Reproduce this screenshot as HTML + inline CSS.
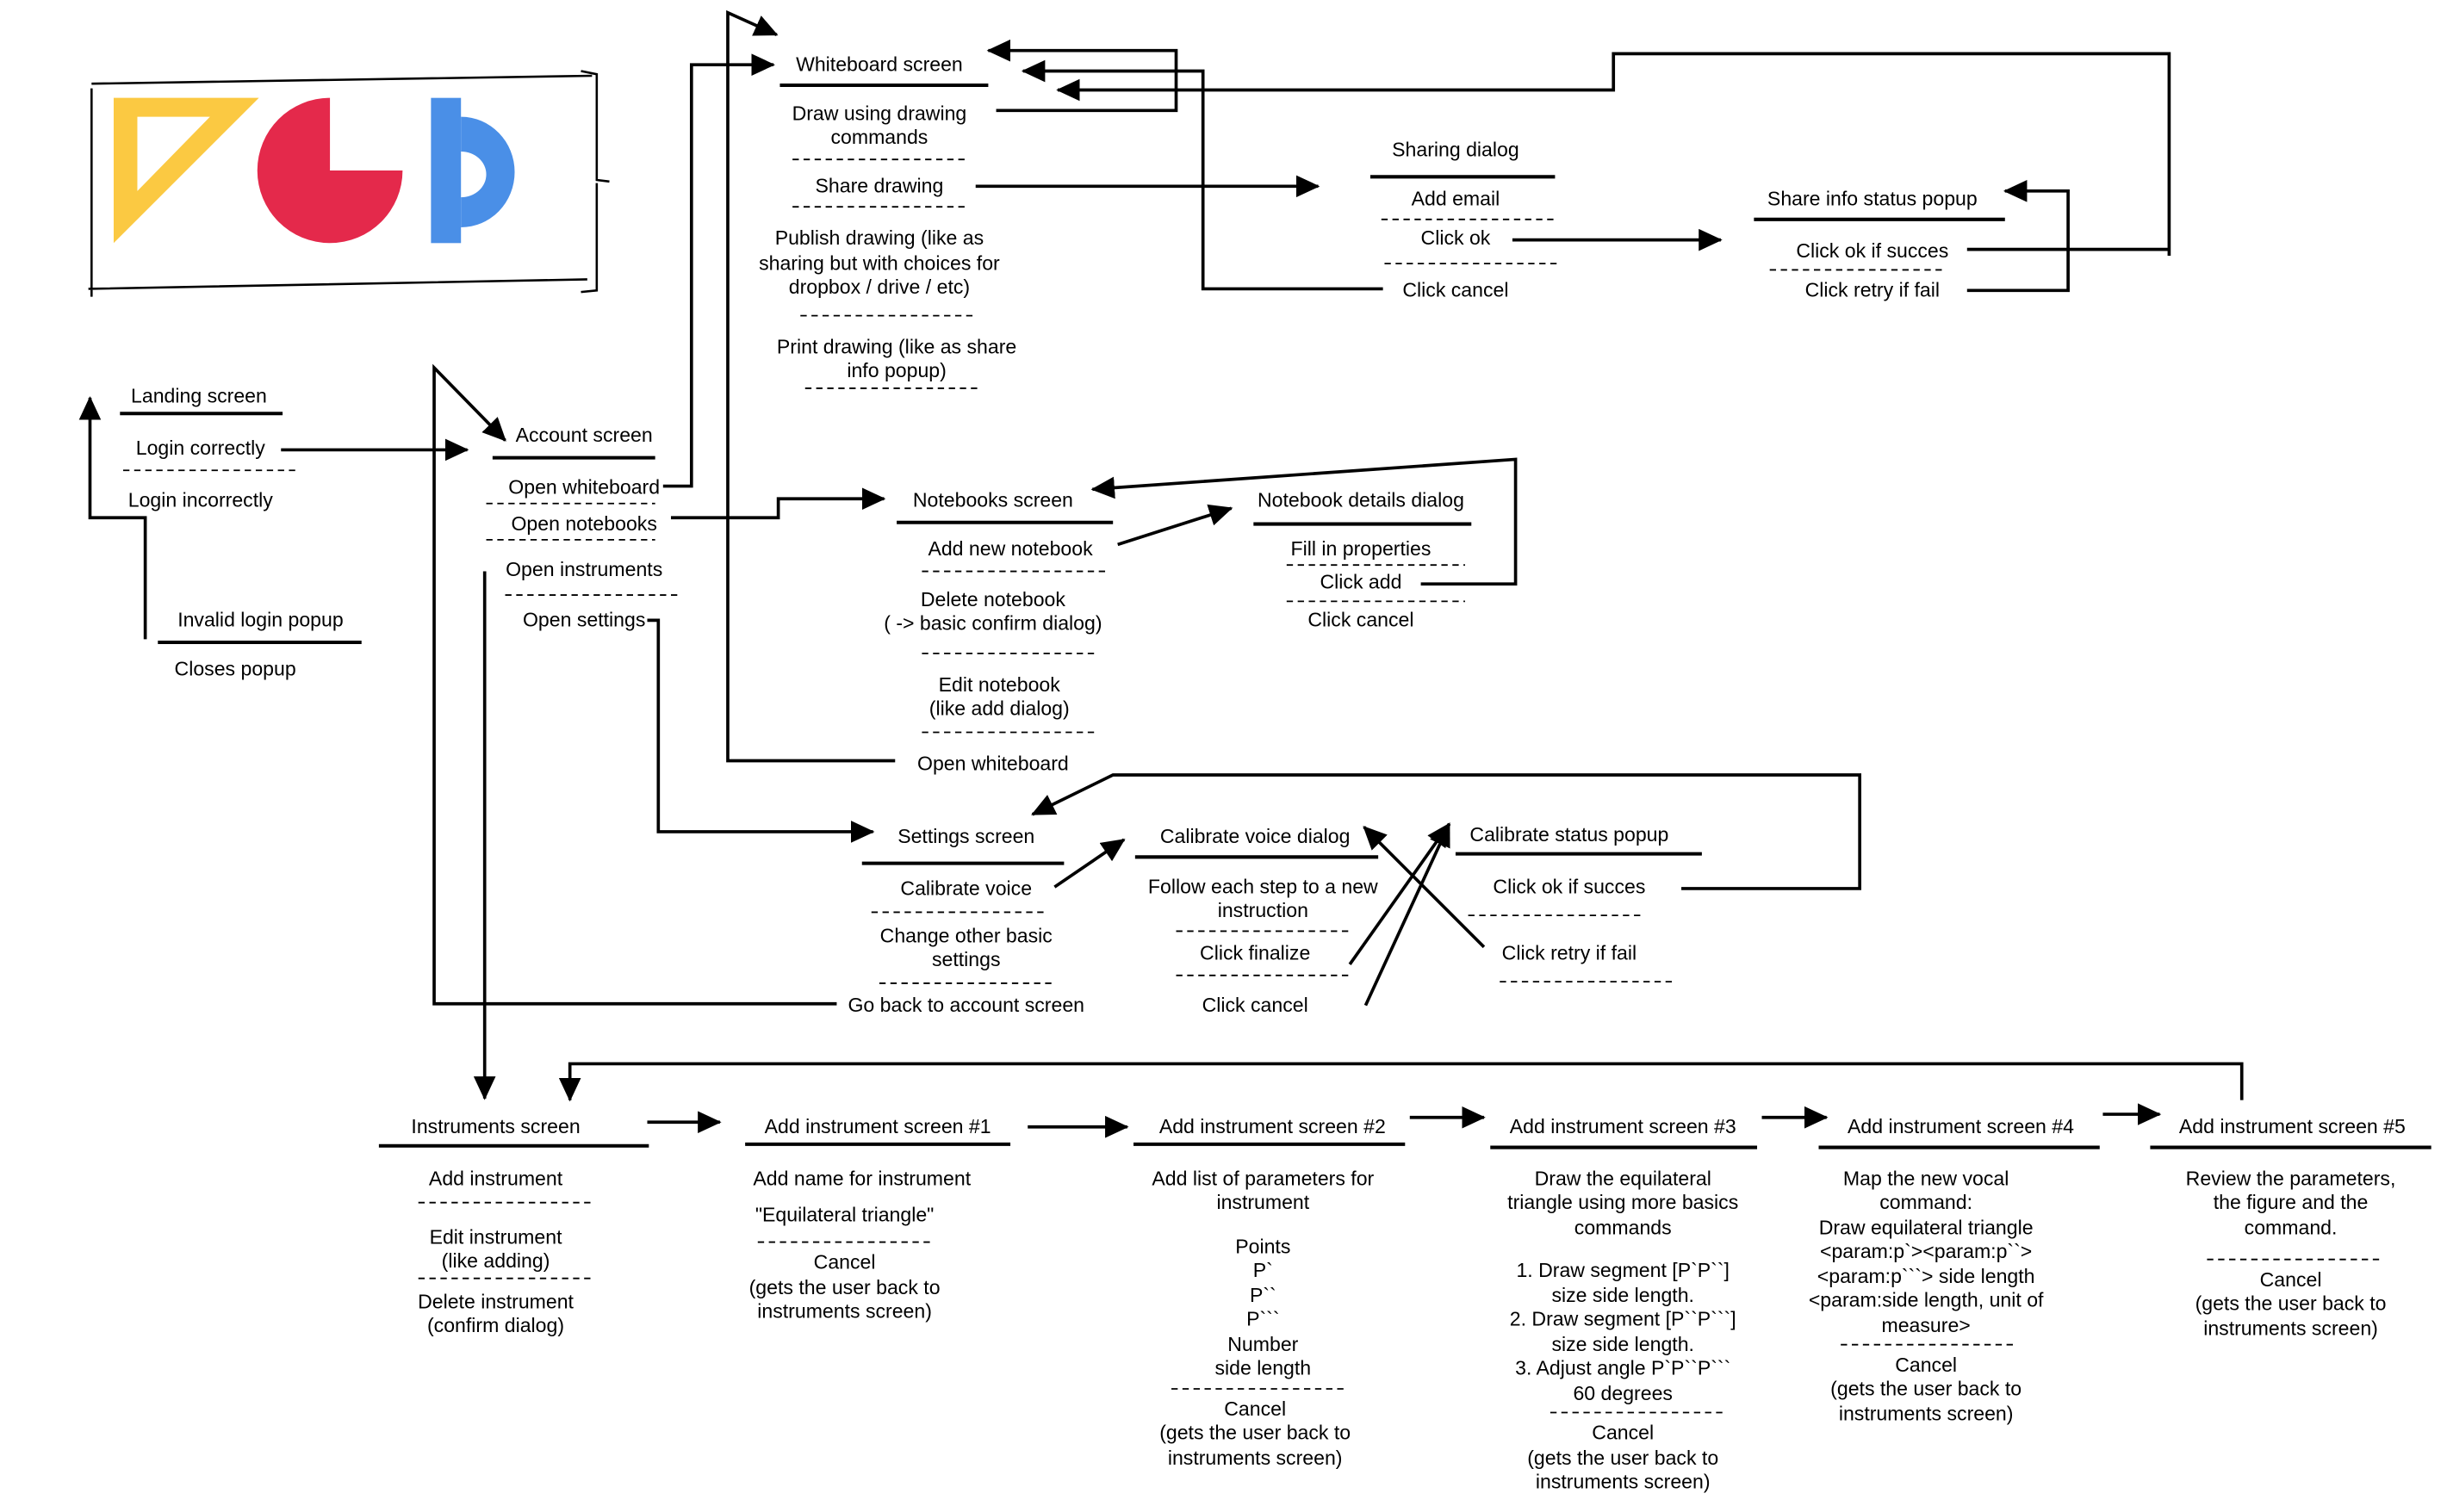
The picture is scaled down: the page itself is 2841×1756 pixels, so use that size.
<!DOCTYPE html>
<html><head><meta charset="utf-8"><style>
html,body{margin:0;padding:0;background:#fff;}
svg{display:block;}
text{font-family:"Liberation Sans",Arial,sans-serif;font-size:12.6px;fill:#000;text-anchor:middle;}
.u{stroke:#000;stroke-width:2.2;fill:none;}
.d{stroke:#000;stroke-width:1;stroke-dasharray:4 3;fill:none;}
.c{stroke:#000;stroke-width:2;fill:none;}
</style></head><body>
<svg width="2841" height="1756" viewBox="0 0 1550 958" xmlns="http://www.w3.org/2000/svg">
<defs>
<marker id="a" markerUnits="userSpaceOnUse" markerWidth="16" markerHeight="14" refX="14" refY="7" orient="auto"><path d="M0,0 L15,7 L0,14 Z" fill="#000"/></marker>
</defs>

<path d="M58,53 L375,48 M56,183 L372,177 M58,56 L58,188" class="c" style="stroke-width:1.4"/>
<path d="M368,45 L378,47 L378,114 L386,115 M378,116 L378,184 L368,185" class="c" style="stroke-width:1.4"/>
<path fill-rule="evenodd" fill="#FBC942" d="M72,62 L164,62 L72,154 Z M87,74 L133,74 L87,121 Z"/>
<path fill="#E4294B" d="M209,108 L209,62 A46,46 0 1 0 255,108 Z"/>
<rect x="273" y="62" width="19" height="92" fill="#4A8FE7"/>
<path fill-rule="evenodd" fill="#4A8FE7" d="M292,74 A34,35 0 0 1 292,144 Z M292,96 L292,125 A16,14.5 0 0 0 292,96 Z"/>

<g class="c">
<path d="M178,285 L296,285" marker-end="url(#a)"/>
<path d="M92,405 L92,328 L57,328 L57,252" marker-end="url(#a)"/>
<path d="M530,636 L275,636 L275,233 L320,279" marker-end="url(#a)"/>
<path d="M420,308 L438,308 L438,41 L490,41" marker-end="url(#a)"/>
<path d="M567,482 L461,482 L461,8 L492,22" marker-end="url(#a)"/>
<path d="M425,328 L493,328 L493,316 L560,316" marker-end="url(#a)"/>
<path d="M307,362 L307,696" marker-end="url(#a)"/>
<path d="M410,393 L417,393 L417,527 L553,527" marker-end="url(#a)"/>
<path d="M631,70 L745,70 L745,32 L626,32" marker-end="url(#a)"/>
<path d="M876,183 L762,183 L762,45 L648,45" marker-end="url(#a)"/>
<path d="M1246,158 L1374,158 M1374,162 L1374,34 L1022,34 L1022,57 L670,57" marker-end="url(#a)"/>
<path d="M618,118 L835,118" marker-end="url(#a)"/>
<path d="M958,152 L1090,152" marker-end="url(#a)"/>
<path d="M1246,184 L1310,184 L1310,121 L1270,121" marker-end="url(#a)"/>
<path d="M708,345 L780,322" marker-end="url(#a)"/>
<path d="M900,370 L960,370 L960,291 L692,310" marker-end="url(#a)"/>
<path d="M1065,563 L1178,563 L1178,491 L705,491 L654,516" marker-end="url(#a)"/>
<path d="M668,562 L712,532" marker-end="url(#a)"/>
<path d="M855,611 L918,522" marker-end="url(#a)"/>
<path d="M865,637 L918,522" marker-end="url(#a)"/>
<path d="M940,600 L864,524" marker-end="url(#a)"/>
<path d="M410,711 L456,711" marker-end="url(#a)"/>
<path d="M651,714 L714,714" marker-end="url(#a)"/>
<path d="M893,708 L940,708" marker-end="url(#a)"/>
<path d="M1116,708 L1157,708" marker-end="url(#a)"/>
<path d="M1332,706 L1368,706" marker-end="url(#a)"/>
<path d="M1420,697 L1420,674 L361,674 L361,697" marker-end="url(#a)"/>
</g>

<g class="u">
<path d="M76,262H179 M100,407H229 M312,290H415 M494,54H626 M868,112H985 M1111,139H1270 M568,331H705 M794,332H932 M546,547H674 M719,543H873 M922,541H1078 M240,726H411 M472,725H640 M718,725H890 M944,727H1113 M1152,727H1330 M1362,727H1540"/>
</g>
<g class="d">
<path d="M78,298H188 M308,319H415 M308,342H415 M320,377H432 M502,101H612 M502,131H612 M507,200H617 M510,246H622 M875,139H987 M877,167H988 M1121,171H1230 M584,362H700 M584,414H695 M584,464H695 M815,358H928 M815,381H928 M552,578H663 M557,623H668 M745,590H857 M745,618H857 M930,580H1040 M950,622H1062 M265,762H375 M265,810H375 M480,787H590 M742,880H852 M982,895H1092 M1166,852H1276 M1398,798H1508"/>
</g>

<text x="126" y="255">Landing screen</text>
<text x="127" y="288">Login correctly</text>
<text x="127" y="321">Login incorrectly</text>
<text x="165" y="397">Invalid login popup</text>
<text x="149" y="428">Closes popup</text>

<text x="370" y="280">Account screen</text>
<text x="370" y="313">Open whiteboard</text>
<text x="370" y="336">Open notebooks</text>
<text x="370" y="365">Open instruments</text>
<text x="370" y="397">Open settings</text>

<text x="557" y="45">Whiteboard screen</text>
<text x="557" y="76">Draw using drawing</text>
<text x="557" y="91">commands</text>
<text x="557" y="122">Share drawing</text>
<text x="557" y="155">Publish drawing (like as</text>
<text x="557" y="171">sharing but with choices for</text>
<text x="557" y="186">dropbox / drive / etc)</text>
<text x="568" y="224">Print drawing (like as share</text>
<text x="568" y="239">info popup)</text>

<text x="922" y="99">Sharing dialog</text>
<text x="922" y="130">Add email</text>
<text x="922" y="155">Click ok</text>
<text x="922" y="188">Click cancel</text>
<text x="1186" y="130">Share info status popup</text>
<text x="1186" y="163">Click ok if succes</text>
<text x="1186" y="188">Click retry if fail</text>

<text x="629" y="321">Notebooks screen</text>
<text x="640" y="352">Add new notebook</text>
<text x="629" y="384">Delete notebook</text>
<text x="629" y="399">( -&gt; basic confirm dialog)</text>
<text x="633" y="438">Edit notebook</text>
<text x="633" y="453">(like add dialog)</text>
<text x="629" y="488">Open whiteboard</text>
<text x="862" y="321">Notebook details dialog</text>
<text x="862" y="352">Fill in properties</text>
<text x="862" y="373">Click add</text>
<text x="862" y="397">Click cancel</text>

<text x="612" y="534">Settings screen</text>
<text x="612" y="567">Calibrate voice</text>
<text x="612" y="597">Change other basic</text>
<text x="612" y="612">settings</text>
<text x="612" y="641">Go back to account screen</text>
<text x="795" y="534">Calibrate voice dialog</text>
<text x="800" y="566">Follow each step to a new</text>
<text x="800" y="581">instruction</text>
<text x="795" y="608">Click finalize</text>
<text x="795" y="641">Click cancel</text>
<text x="994" y="533">Calibrate status popup</text>
<text x="994" y="566">Click ok if succes</text>
<text x="994" y="608">Click retry if fail</text>

<text x="314" y="718">Instruments screen</text>
<text x="314" y="751">Add instrument</text>
<text x="314" y="788">Edit instrument</text>
<text x="314" y="803">(like adding)</text>
<text x="314" y="829">Delete instrument</text>
<text x="314" y="844">(confirm dialog)</text>

<text x="556" y="718">Add instrument screen #1</text>
<text x="546" y="751">Add name for instrument</text>
<text x="535" y="774">"Equilateral triangle"</text>
<text x="535" y="804">Cancel</text>
<text x="535" y="820">(gets the user back to</text>
<text x="535" y="835">instruments screen)</text>

<text x="806" y="718">Add instrument screen #2</text>
<text x="800" y="751">Add list of parameters for</text>
<text x="800" y="766">instrument</text>
<text x="800" y="794">Points</text>
<text x="800" y="809">P&#96;</text>
<text x="800" y="825">P&#96;&#96;</text>
<text x="800" y="840">P&#96;&#96;&#96;</text>
<text x="800" y="856">Number</text>
<text x="800" y="871">side length</text>
<text x="795" y="897">Cancel</text>
<text x="795" y="912">(gets the user back to</text>
<text x="795" y="928">instruments screen)</text>

<text x="1028" y="718">Add instrument screen #3</text>
<text x="1028" y="751">Draw the equilateral</text>
<text x="1028" y="766">triangle using more basics</text>
<text x="1028" y="782">commands</text>
<text x="1028" y="809">1. Draw segment [P&#96;P&#96;&#96;]</text>
<text x="1028" y="825">size side length.</text>
<text x="1028" y="840">2. Draw segment [P&#96;&#96;P&#96;&#96;&#96;]</text>
<text x="1028" y="856">size side length.</text>
<text x="1028" y="871">3. Adjust angle P&#96;P&#96;&#96;P&#96;&#96;&#96;</text>
<text x="1028" y="887">60 degrees</text>
<text x="1028" y="912">Cancel</text>
<text x="1028" y="928">(gets the user back to</text>
<text x="1028" y="943">instruments screen)</text>

<text x="1242" y="718">Add instrument screen #4</text>
<text x="1220" y="751">Map the new vocal</text>
<text x="1220" y="766">command:</text>
<text x="1220" y="782">Draw  equilateral triangle</text>
<text x="1220" y="797">&lt;param:p&#96;&gt;&lt;param:p&#96;&#96;&gt;</text>
<text x="1220" y="813">&lt;param:p&#96;&#96;&#96;&gt; side length</text>
<text x="1220" y="828">&lt;param:side length, unit of</text>
<text x="1220" y="844">measure&gt;</text>
<text x="1220" y="869">Cancel</text>
<text x="1220" y="884">(gets the user back to</text>
<text x="1220" y="900">instruments screen)</text>

<text x="1452" y="718">Add instrument screen #5</text>
<text x="1451" y="751">Review the parameters,</text>
<text x="1451" y="766">the figure and the</text>
<text x="1451" y="782">command.</text>
<text x="1451" y="815">Cancel</text>
<text x="1451" y="830">(gets the user back to</text>
<text x="1451" y="846">instruments screen)</text>
</svg>
</body></html>
